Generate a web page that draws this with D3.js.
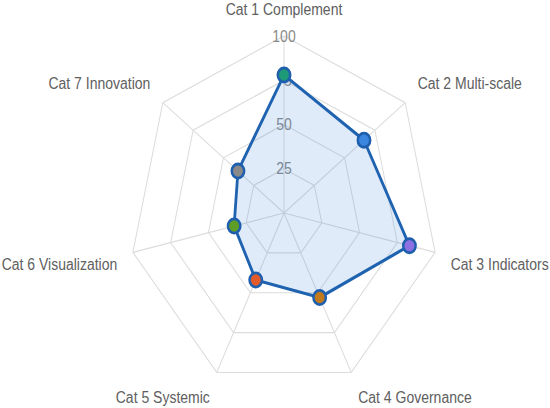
<!DOCTYPE html>
<html><head><meta charset="utf-8">
<script src="https://cdn.jsdelivr.net/npm/d3@7"></script>
<style>body{margin:0;background:#fff}svg{display:block}</style>
</head><body>
<svg id="c" width="550" height="408"></svg>
<script>
const categories = ["Cat 1 Complement","Cat 2 Multi-scale","Cat 3 Indicators","Cat 4 Governance","Cat 5 Systemic","Cat 6 Visualization","Cat 7 Innovation"];
const values = [78, 66, 83, 53, 42, 33, 38];
const pointColors = ["#1e9b76","#3a87e0","#8d70e2","#c27a1a","#e35b2b","#5e9e26","#898989"];
const ticks = [25, 50, 75, 100];
const tickLabels = ["25","50","75","100"];

const W = 550, H = 408, cx = 284, cy = 213, R = 155, sy = 1.142;
const svg = d3.select("#c");
const g = svg.append("g").attr("transform", `translate(${cx},${cy}) scale(1,${sy})`);
const r = d3.scaleLinear().domain([0, 100]).range([0, R]);
const n = categories.length;
const ang = i => -Math.PI / 2 + i * 2 * Math.PI / n;
const pt = (i, rad) => [rad * Math.cos(ang(i)), rad * Math.sin(ang(i))];

// grid rings
ticks.forEach(t => {
  g.append("polygon")
    .attr("points", d3.range(n).map(i => pt(i, r(t)).join(",")).join(" "))
    .attr("fill", "none").attr("stroke", "#dcdcdc").attr("stroke-width", 1);
});
// radial lines
d3.range(n).forEach(i => {
  const p = pt(i, r(100));
  g.append("line").attr("x1", 0).attr("y1", 0).attr("x2", p[0]).attr("y2", p[1])
    .attr("stroke", "#dcdcdc").attr("stroke-width", 1);
});
// tick labels
ticks.forEach((t, k) => {
  g.append("text").attr("x", 0).attr("y", -r(t)).attr("dy", "0.35em")
    .attr("text-anchor", "middle").attr("font-family", "Liberation Sans, Arial, sans-serif")
    .attr("font-size", 14).attr("fill", "#8a8a8a").text(tickLabels[k]);
});
// point labels
categories.forEach((c, i) => {
  const p = pt(i, R + 16);
  const cs = Math.cos(ang(i)), sn = Math.sin(ang(i));
  const anchor = Math.abs(cs) < 0.05 ? "middle" : (cs > 0 ? "start" : "end");
  const yc = sn < 0 ? p[1] - 7 : p[1] + 7;
  g.append("text").attr("x", p[0]).attr("y", yc).attr("dy", "0.35em")
    .attr("text-anchor", anchor).attr("font-family", "Liberation Sans, Arial, sans-serif")
    .attr("font-size", 14).attr("fill", "#606060").text(c);
});
// data polygon
const line = d3.lineRadial().angle((d, i) => i * 2 * Math.PI / n).radius(d => r(d)).curve(d3.curveLinearClosed);
g.append("path").attr("d", line(values))
  .attr("fill", "rgba(54,132,220,0.16)").attr("stroke", "#1f63b0").attr("stroke-width", 2.8)
  .attr("stroke-linejoin", "round");
// points
values.forEach((v, i) => {
  const p = pt(i, r(v));
  g.append("circle").attr("cx", p[0]).attr("cy", p[1]).attr("r", 6.2)
    .attr("fill", pointColors[i]).attr("stroke", "#1f5fae").attr("stroke-width", 2.5);
});
</script>
</body></html>
